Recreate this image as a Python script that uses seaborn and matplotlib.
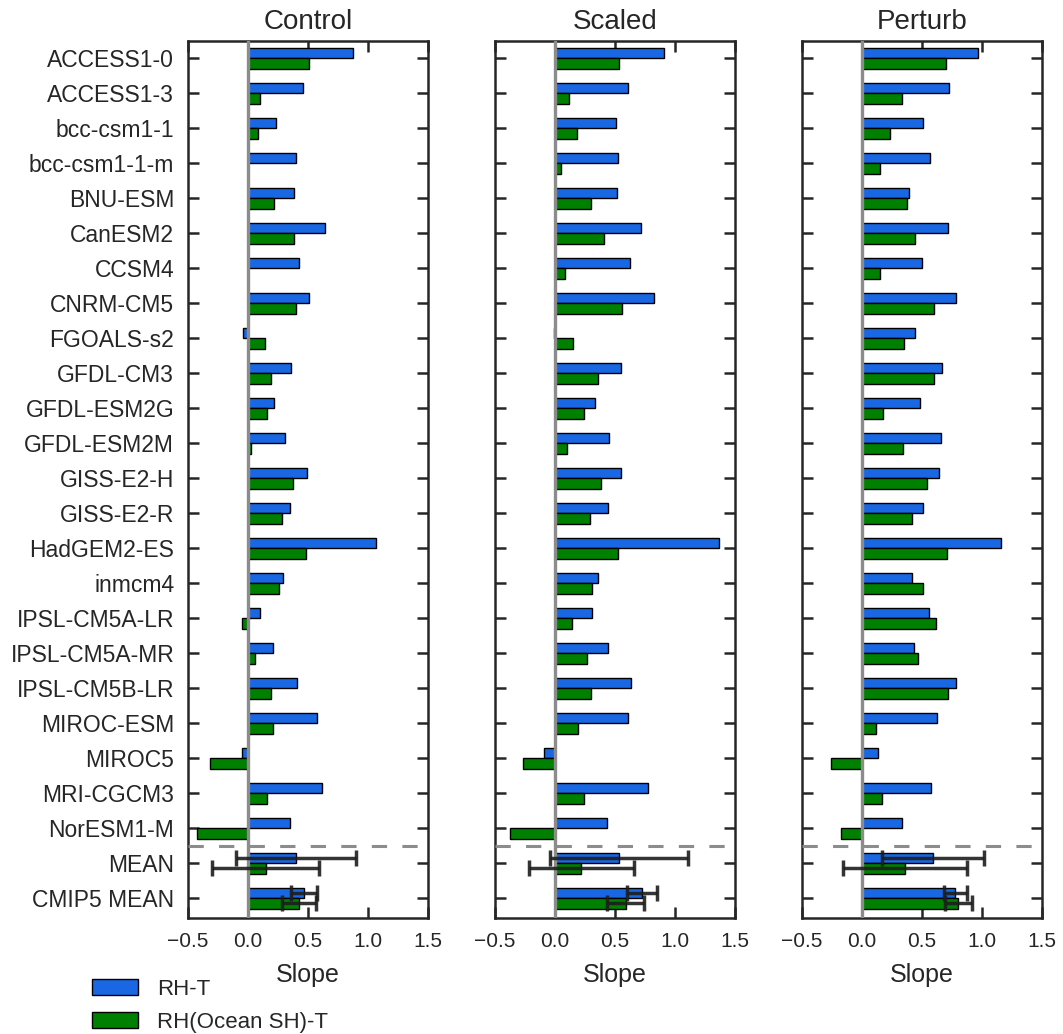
import numpy as np
import pandas as pd
import matplotlib
matplotlib.use('Agg')
import matplotlib.pyplot as plt
import seaborn as sns

# data
models = ['ACCESS1-0', 'ACCESS1-3', 'bcc-csm1-1', 'bcc-csm1-1-m', 'BNU-ESM', 'CanESM2',
          'CCSM4', 'CNRM-CM5', 'FGOALS-s2', 'GFDL-CM3', 'GFDL-ESM2G', 'GFDL-ESM2M',
          'GISS-E2-H', 'GISS-E2-R', 'HadGEM2-ES', 'inmcm4', 'IPSL-CM5A-LR', 'IPSL-CM5A-MR',
          'IPSL-CM5B-LR', 'MIROC-ESM', 'MIROC5', 'MRI-CGCM3', 'NorESM1-M', 'MEAN', 'CMIP5 MEAN']
panels = ['Control', 'Scaled', 'Perturb']
series = ['RH-T', 'RH(Ocean SH)-T']

control_rh = [0.875, 0.458, 0.233, 0.397, 0.383, 0.639, 0.422, 0.506, -0.04, 0.356, 0.214, 0.306,
              0.488, 0.353, 1.064, 0.289, 0.10, 0.206, 0.406, 0.572, -0.05, 0.614, 0.347, 0.397, 0.464]
control_ocean = [0.508, 0.097, 0.083, 0.0, 0.217, 0.383, 0.0, 0.397, 0.139, 0.189, 0.158, 0.022,
                 0.372, 0.281, 0.481, 0.258, -0.05, 0.056, 0.192, 0.206, -0.32, 0.156, -0.425, 0.147, 0.422]
scaled_rh = [0.908, 0.608, 0.511, 0.528, 0.519, 0.717, 0.628, 0.828, -0.005, 0.553, 0.333, 0.45,
             0.553, 0.444, 1.369, 0.361, 0.311, 0.444, 0.636, 0.611, -0.089, 0.778, 0.436, 0.536, 0.728]
scaled_ocean = [0.531, 0.114, 0.183, 0.047, 0.3, 0.411, 0.086, 0.558, 0.153, 0.361, 0.242, 0.103,
                0.381, 0.292, 0.528, 0.311, 0.142, 0.269, 0.297, 0.194, -0.269, 0.244, -0.378, 0.219, 0.589]
perturb_rh = [0.969, 0.728, 0.506, 0.564, 0.392, 0.719, 0.497, 0.786, 0.439, 0.664, 0.486, 0.656,
              0.644, 0.506, 1.161, 0.419, 0.556, 0.436, 0.786, 0.628, 0.136, 0.578, 0.336, 0.592, 0.778]
perturb_ocean = [0.697, 0.331, 0.233, 0.15, 0.372, 0.444, 0.147, 0.597, 0.35, 0.603, 0.172, 0.339,
                 0.539, 0.414, 0.711, 0.511, 0.619, 0.469, 0.719, 0.114, -0.258, 0.169, -0.172, 0.361, 0.803]

# error half-widths for MEAN and CMIP5 MEAN rows
control_err_rh = [0.50, 0.108]
control_err_ocean = [0.444, 0.143]
scaled_err_rh = [0.574, 0.125]
scaled_err_ocean = [0.436, 0.153]
perturb_err_rh = [0.422, 0.093]
perturb_err_ocean = [0.516, 0.114]

values = {'Control': (control_rh, control_ocean, control_err_rh, control_err_ocean),
          'Scaled': (scaled_rh, scaled_ocean, scaled_err_rh, scaled_err_ocean),
          'Perturb': (perturb_rh, perturb_ocean, perturb_err_rh, perturb_err_ocean)}

colors = ['#1a67e3', '#008000']

sns.set_style('ticks')
plt.rcParams['font.family'] = ['Liberation Sans', 'DejaVu Sans']
plt.rcParams['axes.linewidth'] = 1.8
plt.rcParams['axes.edgecolor'] = '#262626'

fig = plt.figure(figsize=(10.63, 10.34), dpi=100)
lefts = [0.1769, 0.4657, 0.7545]

for i, name in enumerate(panels):
    rh, oc, err_rh, err_oc = values[name]
    df = pd.DataFrame({'model': models * 2,
                       'slope': rh + oc,
                       'series': [series[0]] * len(models) + [series[1]] * len(models)})
    ax = fig.add_axes([lefts[i], 0.1122, 0.2258, 0.848])
    sns.barplot(data=df, x='slope', y='model', hue='series', order=models, hue_order=series,
                palette=colors, orient='h', width=0.6, edgecolor='black', linewidth=1,
                saturation=1, errorbar=None, ax=ax)
    ax.get_legend().remove()

    # error bars on the two mean rows
    ypos = np.arange(len(models) - 2, len(models))
    ax.errorbar(rh[-2:], ypos - 0.15, xerr=err_rh, fmt='none', ecolor='#1e1e1e',
                elinewidth=2.5, capsize=5.5, capthick=2.5, alpha=0.9, zorder=5)
    ax.errorbar(oc[-2:], ypos + 0.15, xerr=err_oc, fmt='none', ecolor='#1e1e1e',
                elinewidth=2.5, capsize=5.5, capthick=2.5, alpha=0.9, zorder=5)

    ax.axvline(0, color='#8c8c8c', lw=2.4, zorder=4)
    ax.axhline(len(models) - 2.5, color='#8c8c8c', lw=2.2, dashes=(5, 5), zorder=4)

    ax.set_xlim(-0.5, 1.5)
    ax.set_ylim(len(models) - 0.43, -0.49)
    ax.set_xticks([-0.5, 0.0, 0.5, 1.0, 1.5])
    ax.tick_params(axis='both', direction='in', length=8, width=1.8, color='#262626',
                   top=True, right=True, bottom=True, left=True)
    ax.tick_params(axis='x', labelsize=15, pad=10)
    ax.tick_params(axis='y', labelsize=16.5, pad=10)
    ax.set_xlabel('Slope', fontsize=18, labelpad=9)
    ax.set_ylabel('')
    ax.set_title(name, fontsize=20, pad=9)
    if i > 0:
        ax.set_yticklabels([])

handles = [plt.Rectangle((0, 0), 1, 1, facecolor=c, edgecolor='black', linewidth=1) for c in colors]
fig.legend(handles, series, loc='upper left', bbox_to_anchor=(0.078, 0.062), frameon=False,
           fontsize=16, handlelength=2.1, handletextpad=0.85, labelspacing=0.55, borderaxespad=0)

plt.savefig('out.png', dpi=100)
